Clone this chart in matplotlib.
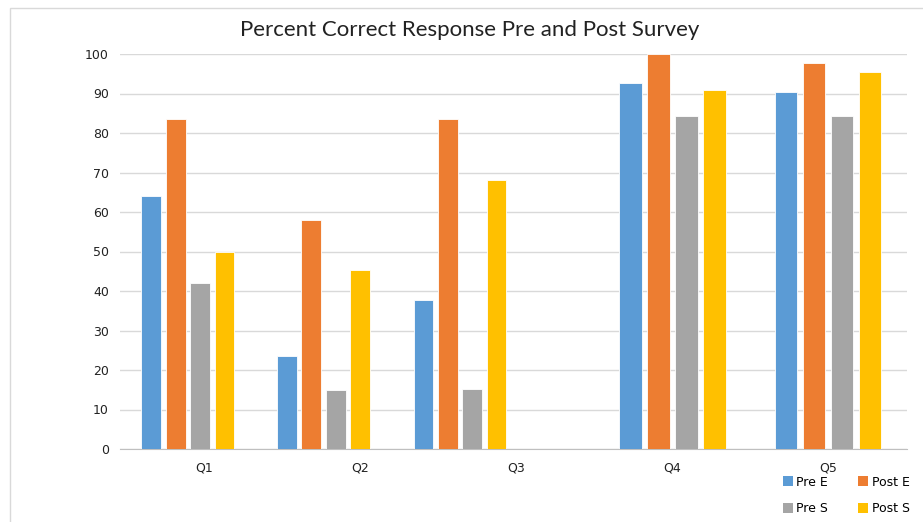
import numpy as np
import matplotlib
matplotlib.use("Agg")
import matplotlib.pyplot as plt
from matplotlib.patches import Rectangle, Patch

categories = ["Q1", "Q2", "Q3", "Q4", "Q5"]
pre_e = [64.0, 23.5, 37.8, 92.6, 90.4]
post_e = [83.5, 57.9, 83.5, 100.0, 97.7]
pre_s = [42.1, 15.0, 15.2, 84.3, 84.3]
post_s = [49.8, 45.4, 68.0, 90.9, 95.4]
series_names = ["Pre E", "Post E", "Pre S", "Post S"]
colors = ["#5B9BD5", "#ED7D31", "#A5A5A5", "#FFC000"]
yticks = [0, 10, 20, 30, 40, 50, 60, 70, 80, 90, 100]

# per-group layout: centre offset from the category tick and bar spacing scale
group_shift = [-0.103, -0.234, -0.359, 0.003, 0.0]
group_scale = [0.87, 0.87, 0.87, 1.0, 1.0]
step = 0.18
width = 0.145

plt.rcParams["font.family"] = ["DejaVu Sans"]

fig = plt.figure(figsize=(9.23, 5.22), dpi=100)
fig.patch.set_facecolor("white")
fig.patches.append(Rectangle((10 / 923, -0.05), 1.2, 1 - 8 / 522 + 0.05,
                             transform=fig.transFigure, fill=False,
                             edgecolor="#D9D9D9", linewidth=1.0))

ax = fig.add_axes([120 / 923, 1 - 449 / 522, 787 / 923, 395 / 522])
x = np.arange(len(categories))
centers = x + np.array(group_shift)
scale = np.array(group_scale)
for i, (vals, col) in enumerate(zip([pre_e, post_e, pre_s, post_s], colors)):
    ax.bar(centers + (i - 1.5) * step * scale, vals, width=width * scale,
           color=col, edgecolor="white", linewidth=0.6, zorder=3)

ax.set_xlim((120 - 204) / 156, (907 - 204) / 156)
ax.set_ylim(0, 100)
ax.set_yticks(yticks)
ax.set_yticklabels([str(t) for t in yticks], fontsize=9, color="#222222")
ax.set_xticks(x)
ax.set_xticklabels(categories, fontsize=9, color="#222222")
ax.tick_params(axis="x", length=0, pad=9)
ax.tick_params(axis="y", length=0, pad=8)
ax.grid(axis="y", color="#D9D9D9", linewidth=1.0, zorder=0)
for s in ["top", "right", "left"]:
    ax.spines[s].set_visible(False)
ax.spines["bottom"].set_color("#BFBFBF")

fig.text(0.509, 0.942, "Percent Correct Response Pre and Post Survey",
         ha="center", va="center", fontsize=16, family="Lato", color="#222222")

handles = [Patch(facecolor=c, edgecolor="none") for c in colors]
order = [0, 2, 1, 3]
fig.legend([handles[i] for i in order], [series_names[i] for i in order],
           ncol=2, loc="center", bbox_to_anchor=(0.917, 0.051), frameon=False,
           fontsize=9, handlelength=0.8, handleheight=0.8, handletextpad=0.3,
           columnspacing=2.4, labelspacing=1.1)

fig.savefig("out.png", dpi=100, facecolor="white")
